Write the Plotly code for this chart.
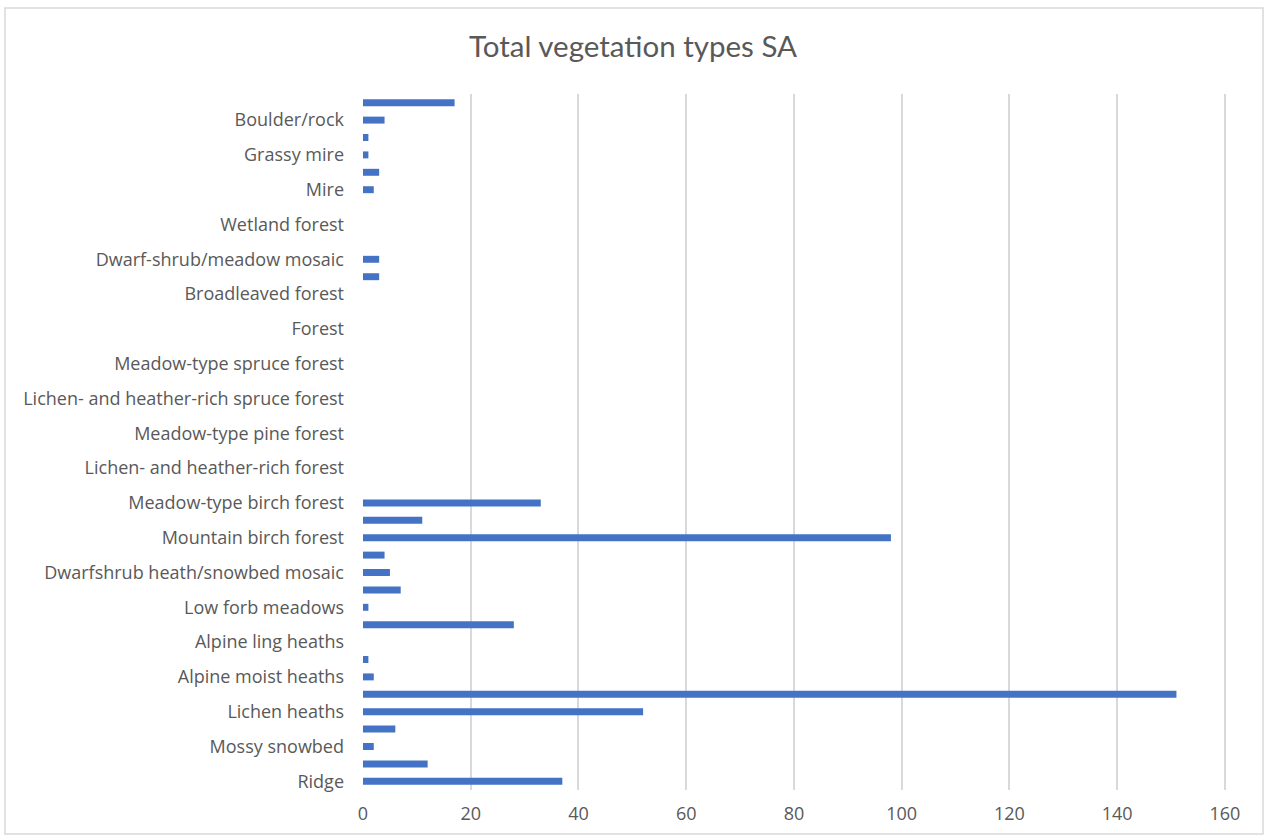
import plotly.graph_objects as go

# Category labels shown on the axis (every second category, bottom to top)
shown_labels = [
    "Ridge", "Mossy snowbed", "Lichen heaths", "Alpine moist heaths",
    "Alpine ling heaths", "Low forb meadows", "Dwarfshrub heath/snowbed mosaic",
    "Mountain birch forest", "Meadow-type birch forest",
    "Lichen- and heather-rich forest", "Meadow-type pine forest",
    "Lichen- and heather-rich spruce forest", "Meadow-type spruce forest",
    "Forest", "Broadleaved forest", "Dwarf-shrub/meadow mosaic",
    "Wetland forest", "Mire", "Grassy mire", "Boulder/rock",
]

# Values for all 40 categories, bottom to top
values = [
    37, 12, 2, 6, 52, 151, 2, 1, 0, 28,
    1, 7, 5, 4, 98, 11, 33, 0, 0, 0,
    0, 0, 0, 0, 0, 0, 0, 0, 0, 3,
    3, 0, 0, 0, 2, 3, 1, 1, 4, 17,
]

x_ticks = [0, 20, 40, 60, 80, 100, 120, 140, 160]

positions = list(range(len(values)))
label_positions = positions[::2]

W, H = 1266, 838
L, R, T, B = 363, 40, 94, 48
pw, ph = W - L - R, H - T - B

def px_x(p):
    return (p - L) / pw

def px_y(p):
    return (H - B - p) / ph

tick_font = dict(family="Open Sans, sans-serif", size=18, color="#595959")

fig = go.Figure(go.Bar(
    x=values, y=positions, orientation="h",
    marker=dict(color="#4472C4", line=dict(width=0)),
    hoverinfo="x",
))

fig.update_layout(
    width=W, height=H,
    margin=dict(l=L, r=R, t=T, b=B),
    paper_bgcolor="white", plot_bgcolor="white",
    bargap=0.6,
    showlegend=False,
    font=dict(family="Open Sans, sans-serif", color="#595959", size=18),
    title=dict(text="Total vegetation types SA", x=0.5, xanchor="center",
               y=1 - 47 / H, yanchor="middle",
               font=dict(size=29.5, color="#595959", family="Lato, Open Sans, sans-serif")),
    xaxis=dict(range=[0, 160.2], tickvals=x_ticks, showgrid=True,
               gridcolor="#d9d9d9", gridwidth=1.5, zeroline=False,
               showline=False, ticks="", ticklabelstandoff=11,
               tickfont=tick_font),
    yaxis=dict(range=[-0.5, len(values) - 0.5], tickvals=label_positions,
               ticktext=shown_labels, showgrid=False, zeroline=False,
               showline=False, ticks="", ticklabelstandoff=18,
               tickfont=tick_font),
    shapes=[dict(type="rect", xref="paper", yref="paper",
                 x0=px_x(5), x1=px_x(1263), y0=px_y(834), y1=px_y(8),
                 line=dict(color="#d9d9d9", width=1.5), layer="below")],
)

fig.write_html("out.html")
